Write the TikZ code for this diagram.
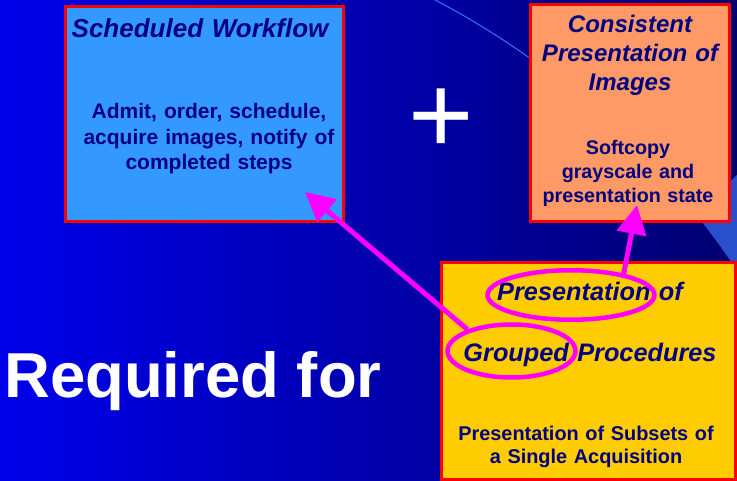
\documentclass[tikz,border=0pt]{standalone}
\usepackage{fontspec}
\newfontfamily\arialf{Liberation Sans}
\usetikzlibrary{shapes.geometric,arrows.meta}
\definecolor{bgL}{RGB}{0,0,235}
\definecolor{bgM}{RGB}{0,0,200}
\definecolor{bgR}{RGB}{0,0,112}
\definecolor{navy}{RGB}{0,0,128}
\definecolor{boxblue}{RGB}{51,153,255}
\definecolor{boxorange}{RGB}{255,153,102}
\definecolor{boxyellow}{RGB}{255,204,0}
\definecolor{bandblue}{RGB}{40,80,205}
\definecolor{arcblue}{RGB}{60,110,255}
\definecolor{magline}{RGB}{255,0,255}
\tikzset{
  panel/.style={draw=red, line width=3pt},
  txt/.style={text=navy, inner sep=0pt, align=center, anchor=base},
  ring/.style={draw=magline, line width=4.5pt, ellipse, inner sep=0pt},
  pointer/.style={draw=magline, line width=5pt, -{Triangle[length=29pt,width=29pt]}},
}
\begin{document}
\begin{tikzpicture}[x=1pt,y=-1pt]
\useasboundingbox (0,0) rectangle (737,481);
% background
\shade[left color=bgL, middle color=bgM, right color=bgR] (0,0) rectangle (737,481);
\fill[bandblue] (737,175) -- (695,213) arc[start angle=-38.6, end angle=-34.35, radius=820] -- (737,262) -- cycle;
\draw[arcblue, line width=1pt] (54,726) ++(-63:820) arc[start angle=-63, end angle=-38, radius=820];

% panels
\path[panel, fill=boxblue] (65,6.5) rectangle (343.5,221.5);
\path[panel, fill=boxorange] (530,5) rectangle (729,221.5);
\path[panel, fill=boxyellow] (441.5,262.5) rectangle (735.5,479.5);

% blue panel text
\node[txt, text width=275pt, font=\arialf\bfseries\itshape\fontsize{26}{30}\selectfont] (swT) at (200,38) {Scheduled Workflow};
\node[txt, text width=275pt, font=\arialf\bfseries\fontsize{21}{25.5}\selectfont] (swB) at (209,119) {Admit, order, schedule,\\acquire images, notify of\\completed steps};

% orange panel text
\node[txt, text width=195pt, font=\arialf\bfseries\itshape\fontsize{24}{29}\selectfont] (cpT) at (630,33) {Consistent\\Presentation of\\Images};
\node[txt, text width=195pt, font=\arialf\bfseries\fontsize{19.7}{24}\selectfont] (cpB) at (628,154.5) {Softcopy\\grayscale and\\presentation state};

% yellow panel text
\node[txt, text width=290pt, font=\arialf\bfseries\itshape\fontsize{25.3}{60.7}\selectfont] (gpT) at (590,301) {Presentation of\\Grouped Procedures};
\node[txt, text width=290pt, font=\arialf\bfseries\fontsize{19.9}{23.4}\selectfont] (gpB) at (586,440.5) {Presentation of Subsets of\\a Single Acquisition};

% plus and label
\node[inner sep=0pt, text=white, font=\arialf\fontsize{112}{120}\selectfont] (plus) at (441,121) {+};
\node[inner sep=0pt, anchor=base west, text=white, font=\arialf\bfseries\fontsize{63.5}{76}\selectfont] (req) at (4,397) {Required for};

% highlight rings
\node[ring, minimum width=167pt, minimum height=49.5pt] (pres) at (571,295) {};
\node[ring, minimum width=128pt, minimum height=53pt] (grp) at (511.5,351) {};

% arrows
\coordinate (tipA) at (305,192);
\coordinate (tipB) at (637,205);
\draw[pointer] (grp.154) -- (tipA);
\draw[pointer] (pres.22) -- (tipB);
\end{tikzpicture}
\end{document}
